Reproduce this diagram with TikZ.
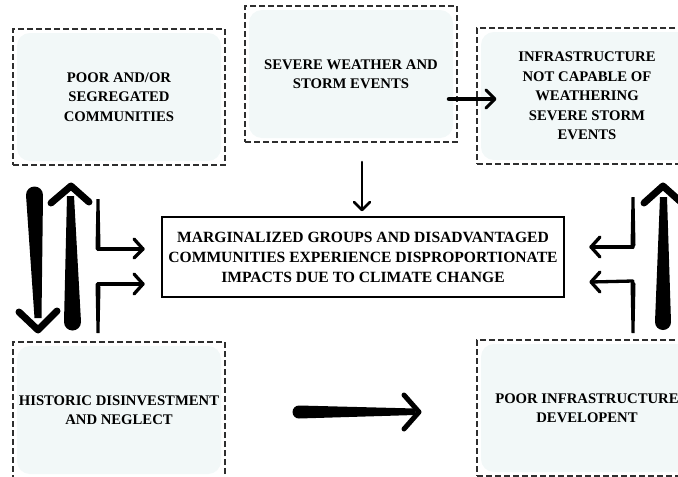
\documentclass[tikz,border=0pt]{standalone}
\usepackage{fontspec}
\setmainfont{Liberation Serif}
\usetikzlibrary{arrows.meta,calc}
\definecolor{boxfill}{HTML}{F2F8F8}
\definecolor{dashcol}{HTML}{2E2E2E}
\tikzset{
  dbox/.style={draw=dashcol, line width=1.6pt, dash pattern=on 6pt off 3pt,
    minimum width=212pt, minimum height=136pt, inner sep=0pt, align=center,
    font=\bfseries\fontsize{14.7}{19.5}\selectfont,
    path picture={\fill[boxfill, rounded corners=13pt]
      ([shift={(4pt,-4pt)}]path picture bounding box.north west) rectangle
      ([shift={(-4pt,4pt)}]path picture bounding box.south east);}},
  mainbox/.style={draw=black, line width=2.8pt, minimum width=402pt, minimum height=80pt,
    inner sep=0pt, align=center, font=\bfseries\fontsize{15.6}{20}\selectfont},
  thinarrow/.style={draw=black, line width=2.6pt, line cap=round, line join=round},
  headline/.style={line width=3.3pt, line cap=round, line join=round},
  bighead/.style={line width=7pt, line cap=round, line join=round},
}
\begin{document}
\begin{tikzpicture}[x=1pt,y=-1pt]
\clip (0,0) rectangle (678,477);
\fill[white] (0,0) rectangle (678,477);

% boxes
\node[dbox] (A) at (119,97) {POOR AND/OR\\SEGREGATED\\COMMUNITIES};
\node[dbox] (B) at (351,74) {SEVERE WEATHER AND\\STORM EVENTS};
\node[dbox, minimum width=220pt] (C) at (587,96) {INFRASTRUCTURE\\NOT CAPABLE OF\\WEATHERING\\SEVERE STORM\\EVENTS};
\node[dbox] (D) at (119,410) {HISTORIC DISINVESTMENT\\AND NEGLECT};
\node[dbox, minimum width=220pt] (E) at (587,408) {POOR INFRASTRUCTURE\\DEVELOPENT};
\node[mainbox] (M) at (363,257) {MARGINALIZED GROUPS AND DISADVANTAGED\\COMMUNITIES EXPERIENCE DISPROPORTIONATE\\IMPACTS DUE TO CLIMATE CHANGE};

% coordinates for arrows
\coordinate (bdS) at (362,162);
\coordinate (bdE) at (362,210);
\coordinate (bcS) at (449,99);
\coordinate (bcE) at (495,99);
\coordinate (deS) at (299,412);
\coordinate (deE) at (419,412);

% B -> M (thin down arrow)
\draw[thinarrow] (bdS) -- (bdE);
\draw[thinarrow] ([shift={(-8pt,8pt)}]bdE) -- (bdE) -- ([shift={(8pt,8pt)}]bdE);

% B -> C
\draw[line width=4.5pt, line cap=round] (bcS) -- ([xshift=-4pt]bcE);
\draw[thinarrow, line width=3pt] ([shift={(-9pt,9pt)}]bcE) -- (bcE) -- ([shift={(-9pt,-9pt)}]bcE);

% D -> E bottom thick arrow
\fill ($(deS)+(0,-6.5)$) -- ([shift={(-4pt,3.5pt)}]deE) -- ([shift={(-4pt,-3pt)}]deE) -- ($(deS)+(0,6.5)$) arc[start angle=-90,end angle=-270,radius=6.5pt] -- cycle;
\draw[line width=5pt, line cap=round, line join=round] ([shift={(-15pt,17pt)}]deE) -- (deE) -- ([shift={(-15pt,-17pt)}]deE);

% left big down arrow (A -> D)
\coordinate (ldE) at (38,330);
\fill (26,195) arc[start angle=180,end angle=0,radius=8.5pt] -- (41.5,318) -- (34.5,318) -- cycle;
\draw[bighead] (19,312) -- (ldE) -- (57,311);

% left big up arrow (D -> A)
\coordinate (luE) at (71,186);
\fill (64,322) arc[start angle=180,end angle=360,radius=8.5pt] -- (74,196) -- (67,196) -- cycle;
\draw[bighead] (51,203) -- (luE) -- (89,202);

% left L arrows into M
\coordinate (l1c) at (143,249);
\fill (96.5,199) -- (99.5,199) -- (100.5,246) -- (98,251) -- (95.5,249) -- cycle;
\draw[headline] (98,249) -- (l1c);
\draw[headline] (134,239) -- (l1c) -- (134,258);
\coordinate (l2c) at (143,284);
\fill (96.5,333) -- (99.5,333) -- (100.5,287) -- (98,282) -- (95.5,284) -- cycle;
\draw[headline] (98,284) -- (l2c);
\draw[headline] (134,274) -- (l2c) -- (134,294);

% right big up arrow (E -> C)
\coordinate (ruE) at (663,186);
\fill (655,322) arc[start angle=180,end angle=360,radius=8pt] -- (667,197) -- (660,197) -- cycle;
\draw[bighead] (644,203) -- (ruE) -- (682,203);

% right L arrows into M
\coordinate (r1c) at (591,247);
\fill (631.5,197) -- (634.5,197) -- (635.5,245) -- (633,249) -- (630.5,246) -- cycle;
\draw[headline] (633,247) -- (r1c);
\draw[headline] (600,237) -- (r1c) -- (600,257);
\coordinate (r2c) at (591,282);
\fill (631.5,333) -- (634.5,333) -- (635.5,284) -- (633,280) -- (630.5,283) -- cycle;
\draw[headline] (633,281) -- (r2c);
\draw[headline] (600,272) -- (r2c) -- (600,292);
\end{tikzpicture}
\end{document}
